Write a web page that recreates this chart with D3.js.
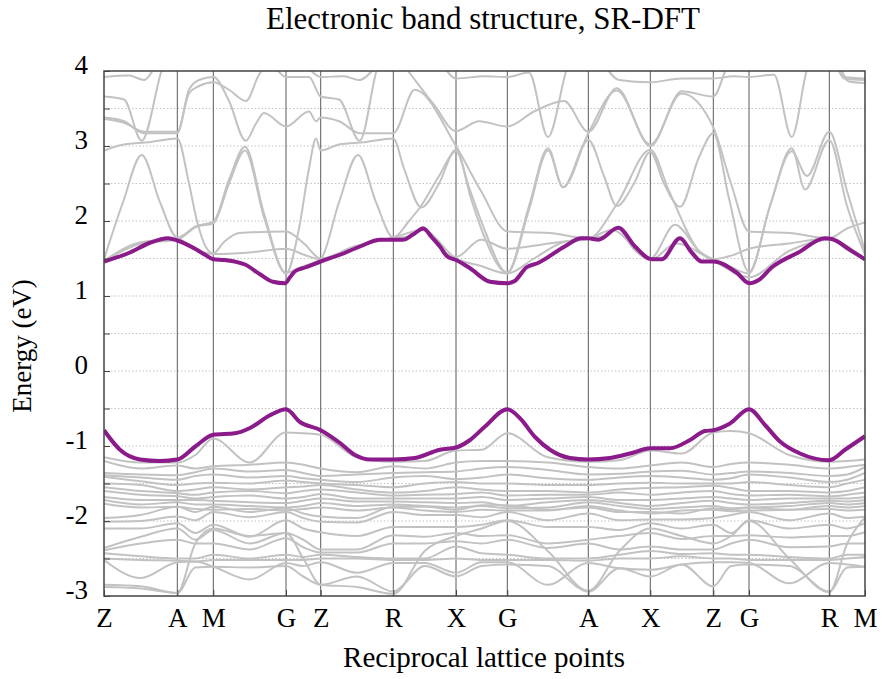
<!DOCTYPE html>
<html>
<head>
<meta charset="utf-8">
<script src="https://cdn.jsdelivr.net/npm/d3@7"></script>
<style>
  body { margin: 0; background: #fff; }
  text { font-family: "Liberation Serif", "Times New Roman", serif; fill: #000; }
</style>
</head>
<body>
<svg id="chart" width="882" height="679"></svg>
<script>
// ---------------------------------------------------------------------------
// Data

// high symmetry points along the path (path length units)
const kPath = [0, 0.733, 1.093, 1.820, 2.167, 2.893, 3.520, 4.033, 4.843, 5.463, 6.093, 6.450, 7.253, 7.610];
const kNames = ['Z', 'A', 'M', 'G', 'Z', 'R', 'X', 'G', 'A', 'X', 'Z', 'G', 'R', 'M'];

const yTicks = [-3, -2, -1, 0, 1, 2, 3, 4];
const yGrid = [-2.5, -2, -1.5, -1, -0.5, 0, 0.5, 1, 1.5, 2, 2.5, 3, 3.5];

// highlighted bands (conduction band minimum / valence band maximum), [k, E]
const purpleCond = [[0, 1.46], [0.26, 1.58], [0.46, 1.71], [0.64, 1.77], [0.733, 1.74], [0.91, 1.63], [1.01, 1.55],
  [1.093, 1.49], [1.21, 1.48], [1.41, 1.42], [1.56, 1.29], [1.69, 1.19], [1.81, 1.17], [1.86, 1.25], [1.91, 1.33],
  [2.01, 1.38], [2.167, 1.46], [2.36, 1.55], [2.56, 1.66], [2.76, 1.75], [2.893, 1.75], [2.99, 1.75], [3.09, 1.82],
  [3.193, 1.90], [3.28, 1.78], [3.36, 1.66], [3.43, 1.53], [3.52, 1.48], [3.66, 1.37], [3.86, 1.19], [4.033, 1.17],
  [4.107, 1.20], [4.223, 1.38], [4.34, 1.44], [4.607, 1.66], [4.773, 1.77], [4.843, 1.77], [4.943, 1.75],
  [5.143, 1.91], [5.31, 1.66], [5.477, 1.49], [5.577, 1.49], [5.76, 1.77], [5.877, 1.58], [5.977, 1.46],
  [6.093, 1.46], [6.327, 1.31], [6.453, 1.17], [6.543, 1.21], [6.677, 1.38], [6.943, 1.58], [7.21, 1.77],
  [7.277, 1.76], [7.477, 1.60], [7.61, 1.49]];

const purpleVal = [[0, -0.79], [0.16, -1.05], [0.36, -1.18], [0.56, -1.20], [0.733, -1.18], [0.91, -1.01],
  [1.093, -0.85], [1.31, -0.83], [1.46, -0.76], [1.66, -0.59], [1.82, -0.51], [1.96, -0.68], [2.167, -0.79],
  [2.36, -0.96], [2.51, -1.12], [2.66, -1.18], [2.893, -1.18], [3.11, -1.16], [3.36, -1.05], [3.52, -1.02],
  [3.66, -0.92], [3.81, -0.74], [4.033, -0.51], [4.16, -0.63], [4.31, -0.88], [4.46, -1.05], [4.66, -1.16],
  [4.843, -1.18], [5.06, -1.16], [5.26, -1.10], [5.463, -1.03], [5.66, -1.03], [5.86, -0.92], [6.01, -0.80],
  [6.093, -0.79], [6.26, -0.70], [6.45, -0.51], [6.61, -0.72], [6.76, -0.94], [6.96, -1.10], [7.253, -1.19],
  [7.41, -1.05], [7.61, -0.87]];

// other conduction bands, [k, E]
const cond1 = [[0, 1.49], [0.19, 2.25], [0.377, 2.88], [0.56, 2.25], [0.733, 1.78], [0.92, 1.93], [1.093, 1.99],
  [1.25, 2.55], [1.41, 2.99], [1.6, 2.1], [1.82, 1.31], [2.0, 1.4], [2.167, 1.49], [2.35, 2.25], [2.54, 2.88],
  [2.72, 2.25], [2.893, 1.78], [3.05, 2.0], [3.17, 2.2], [3.35, 2.6], [3.52, 2.93], [3.65, 2.45], [3.8, 1.9],
  [4.033, 1.31], [4.25, 2.2], [4.44, 2.97], [4.59, 2.45], [4.843, 3.08], [5.0, 2.6], [5.127, 2.2], [5.3, 2.5],
  [5.463, 2.92], [5.6, 2.5], [5.76, 2.19], [5.95, 2.85], [6.093, 3.17], [6.25, 2.3], [6.45, 1.32], [6.66, 2.2],
  [6.877, 2.97], [7.01, 2.42], [7.253, 3.08], [7.43, 2.2], [7.61, 1.55]];
const cond2 = [[0, 1.47], [0.38, 1.72], [0.733, 1.76], [0.92, 1.62], [1.093, 1.56], [1.45, 1.58], [1.82, 1.63],
  [2.0, 1.55], [2.167, 1.49], [2.5, 1.65], [2.893, 1.77], [3.07, 1.8], [3.19, 1.92], [3.35, 1.65], [3.52, 1.52],
  [3.77, 1.75], [4.033, 1.63], [4.45, 1.7], [4.843, 1.77], [5.0, 1.8], [5.13, 1.92], [5.3, 1.62], [5.463, 1.5],
  [5.71, 1.95], [5.95, 1.6], [6.093, 1.49], [6.3, 1.55], [6.45, 1.63], [6.85, 1.7], [7.253, 1.77], [7.43, 1.62],
  [7.61, 1.5]];
const cond3 = [[0, 3.38], [0.2, 3.33], [0.4, 3.17], [0.733, 3.17], [0.85, 3.75], [0.95, 3.88], [1.093, 3.92],
  [1.25, 3.6], [1.417, 3.07], [1.52, 3.3], [1.6, 3.44], [1.82, 3.26], [2.05, 3.46], [2.12, 3.33], [2.167, 3.38],
  [2.35, 3.33], [2.56, 3.17], [2.893, 3.17], [3.107, 3.75], [3.52, 3.0], [3.77, 2.4], [4.033, 1.86], [4.45, 1.84],
  [4.843, 1.77], [5.127, 2.22], [5.463, 2.95], [5.65, 2.4], [5.95, 1.6], [6.093, 1.49], [6.25, 1.4], [6.45, 1.3],
  [6.66, 2.2], [6.877, 2.93], [7.03, 2.6], [7.253, 3.19], [7.43, 2.4], [7.61, 1.6]];
const cond4 = [[0, 3.36], [0.2, 3.31], [0.4, 3.19], [0.733, 3.19], [0.85, 3.7], [0.95, 3.8], [1.093, 3.85],
  [1.25, 3.75], [1.42, 3.6], [1.55, 3.95], [1.65, 4.1], [1.82, 3.92], [2.05, 3.92], [2.167, 3.66], [2.35, 3.62],
  [2.557, 3.07], [2.75, 4.1], [2.893, 4.25], [3.04, 4.0], [3.3, 3.55], [3.52, 3.2], [3.75, 3.33], [4.033, 3.26],
  [4.3, 3.46], [4.6, 3.6], [4.843, 3.19], [5.127, 3.77], [5.463, 3.0], [5.777, 3.73], [6.093, 3.66], [6.25, 4.1],
  [6.45, 4.25], [7.253, 4.25], [7.4, 3.9], [7.61, 3.88]];
const cond5 = [[0, 3.66], [0.2, 3.62], [0.377, 3.07], [0.6, 4.1], [0.733, 4.3], [1.82, 4.3], [2.0, 4.1],
  [2.167, 3.92], [2.4, 3.93], [2.55, 3.88], [2.75, 4.1], [2.893, 4.3], [3.3, 4.2], [3.52, 3.9], [3.8, 3.93],
  [4.033, 3.92], [4.25, 3.98], [4.44, 3.12], [4.65, 4.1], [4.843, 4.3], [5.15, 3.88], [5.463, 3.85], [5.777, 3.9],
  [6.093, 3.9], [6.3, 3.93], [6.45, 3.92], [6.7, 3.95], [6.877, 3.12], [7.05, 4.1], [7.253, 4.3], [7.45, 3.86],
  [7.61, 3.84]];
const cond6 = [[0, 1.46], [0.38, 1.7], [0.733, 1.75], [0.92, 1.92], [1.093, 1.97], [1.25, 2.5], [1.41, 2.94],
  [1.6, 2.05], [1.82, 1.30], [1.95, 1.9], [2.05, 2.7], [2.12, 3.1], [2.167, 2.94], [2.35, 3.02], [2.6, 3.05],
  [2.893, 3.10], [3.0, 2.7], [3.173, 2.18], [3.35, 2.5], [3.52, 2.95], [3.67, 2.3], [3.8, 1.8], [4.033, 1.31],
  [4.25, 2.15], [4.44, 2.94], [4.59, 2.45], [4.843, 3.17], [5.127, 3.74], [5.463, 3.02], [5.777, 3.7],
  [6.093, 3.25], [6.27, 2.5], [6.45, 1.86], [6.85, 1.84], [7.253, 1.77], [7.43, 1.9], [7.61, 1.98]];
const cond7 = [[0, 2.94], [0.2, 3.02], [0.45, 3.05], [0.733, 3.10], [0.85, 2.5], [0.93, 2.0], [1.02, 1.65],
  [1.093, 1.57], [1.2, 1.72], [1.35, 1.84], [1.82, 1.86], [2.0, 1.7], [2.167, 1.5], [2.5, 1.66], [2.893, 1.78],
  [3.19, 1.88], [3.52, 1.5], [3.77, 1.4], [4.033, 1.3], [4.3, 1.5], [4.6, 1.72], [4.843, 1.76], [5.08, 1.88],
  [5.463, 1.48], [5.72, 1.7], [6.093, 1.47], [6.45, 1.25], [6.85, 1.6], [7.253, 1.75], [7.61, 1.48]];
const cond8 = [[0, 3.92], [0.25, 3.94], [0.4, 3.88], [0.6, 4.2], [7.253, 4.25], [7.4, 3.92], [7.61, 3.9]];

// valence bands sampled at the high symmetry points and segment midpoints
const valK = [0, 0.367, 0.733, 0.913, 1.093, 1.457, 1.820, 1.993, 2.167, 2.530, 2.893, 3.207, 3.520, 3.777,
  4.033, 4.438, 4.843, 5.153, 5.463, 5.778, 6.093, 6.272, 6.450, 6.852, 7.253, 7.432, 7.610];
const val1 = [-1.15, -1.22, -1.22, -1.12, -0.90, -1.22, -0.82, -0.83, -0.85, -1.15, -1.21, -1.20, -1.06, -1.05, -0.83, -1.15, -1.21, -1.19, -1.06, -1.10, -0.82, -0.80, -0.83, -1.12, -1.21, -1.20, -1.18];
const val2 = [-1.20, -1.30, -1.26, -1.30, -1.27, -1.25, -1.22, -1.25, -1.30, -1.35, -1.27, -1.30, -1.22, -1.20, -1.20, -1.22, -1.28, -1.30, -1.26, -1.22, -1.28, -1.24, -1.22, -1.25, -1.30, -1.28, -1.25];
const val3 = [-1.36, -1.38, -1.39, -1.35, -1.30, -1.34, -1.32, -1.36, -1.40, -1.38, -1.36, -1.35, -1.34, -1.30, -1.28, -1.32, -1.38, -1.37, -1.34, -1.33, -1.38, -1.36, -1.34, -1.36, -1.40, -1.38, -1.28];
const val4 = [-1.39, -1.42, -1.45, -1.40, -1.38, -1.42, -1.40, -1.43, -1.45, -1.48, -1.42, -1.40, -1.44, -1.42, -1.38, -1.43, -1.45, -1.42, -1.40, -1.42, -1.45, -1.43, -1.38, -1.42, -1.48, -1.45, -1.36];
const val5 = [-1.41, -1.47, -1.52, -1.50, -1.49, -1.50, -1.46, -1.48, -1.50, -1.52, -1.55, -1.50, -1.48, -1.50, -1.50, -1.52, -1.52, -1.50, -1.49, -1.50, -1.50, -1.50, -1.48, -1.52, -1.55, -1.50, -1.45];
const val6 = [-1.50, -1.52, -1.60, -1.58, -1.55, -1.58, -1.55, -1.54, -1.52, -1.58, -1.62, -1.60, -1.55, -1.58, -1.60, -1.60, -1.62, -1.58, -1.56, -1.55, -1.53, -1.56, -1.60, -1.60, -1.62, -1.60, -1.55];
const val7 = [-1.55, -1.60, -1.63, -1.65, -1.62, -1.60, -1.63, -1.60, -1.58, -1.62, -1.66, -1.65, -1.64, -1.62, -1.66, -1.65, -1.65, -1.62, -1.65, -1.62, -1.60, -1.64, -1.66, -1.65, -1.67, -1.65, -1.62];
const val8 = [-1.60, -1.65, -1.67, -1.70, -1.68, -1.66, -1.70, -1.68, -1.64, -1.70, -1.70, -1.70, -1.70, -1.68, -1.72, -1.70, -1.68, -1.72, -1.72, -1.70, -1.68, -1.70, -1.72, -1.70, -1.70, -1.70, -1.68];
const val9 = [-1.68, -1.72, -1.72, -1.72, -1.73, -1.75, -1.76, -1.73, -1.70, -1.74, -1.74, -1.75, -1.76, -1.75, -1.80, -1.75, -1.72, -1.76, -1.80, -1.76, -1.73, -1.76, -1.78, -1.76, -1.73, -1.74, -1.72];
const val10 = [-1.72, -1.78, -1.75, -1.78, -1.78, -1.80, -1.82, -1.80, -1.76, -1.80, -1.78, -1.80, -1.82, -1.80, -1.83, -1.82, -1.75, -1.80, -1.84, -1.82, -1.80, -1.83, -1.82, -1.80, -1.76, -1.78, -1.76];
const val11 = [-1.77, -1.82, -1.81, -1.84, -1.85, -1.84, -1.86, -1.84, -1.82, -1.86, -1.82, -1.86, -1.88, -1.85, -1.86, -1.86, -1.80, -1.86, -1.90, -1.86, -1.85, -1.87, -1.86, -1.85, -1.80, -1.82, -1.80];
const val12 = [-1.96, -1.92, -1.81, -1.88, -1.81, -1.88, -1.83, -1.90, -1.94, -1.96, -1.81, -1.81, -1.85, -1.79, -1.79, -1.85, -1.82, -1.88, -1.88, -1.90, -1.83, -1.85, -1.82, -1.85, -1.84, -1.86, -1.85];
const val13 = [-2.01, -2.00, -1.94, -1.99, -1.88, -1.95, -1.88, -1.96, -2.01, -2.02, -1.88, -1.92, -1.92, -1.95, -1.88, -1.99, -1.90, -1.99, -1.98, -1.98, -1.96, -1.92, -1.88, -1.99, -1.90, -1.96, -1.94];
const val14 = [-2.10, -2.10, -2.03, -2.16, -2.05, -2.21, -1.99, -2.10, -2.15, -2.20, -2.08, -2.08, -2.08, -2.05, -1.99, -2.08, -2.08, -2.12, -2.03, -2.10, -2.05, -2.16, -1.99, -2.10, -2.05, -2.10, -2.03];
const val15 = [-2.36, -2.21, -2.10, -2.25, -2.12, -2.30, -2.16, -2.25, -2.38, -2.38, -2.19, -2.21, -2.16, -2.20, -2.19, -2.30, -2.25, -2.20, -2.16, -2.24, -2.20, -2.20, -2.19, -2.22, -2.20, -2.20, -2.15];
const val16 = [-2.39, -2.30, -2.25, -2.30, -2.30, -2.38, -2.23, -2.35, -2.42, -2.42, -2.30, -2.30, -2.27, -2.30, -2.25, -2.36, -2.30, -2.38, -2.34, -2.38, -2.38, -2.30, -2.25, -2.35, -2.34, -2.30, -2.30];
const val17 = [-2.43, -2.47, -2.50, -2.50, -2.45, -2.50, -2.45, -2.48, -2.45, -2.48, -2.50, -2.50, -2.34, -2.43, -2.45, -2.50, -2.50, -2.45, -2.40, -2.44, -2.43, -2.45, -2.45, -2.48, -2.50, -2.45, -2.45];
const val18 = [-2.50, -2.52, -2.53, -2.54, -2.52, -2.52, -2.52, -2.52, -2.50, -2.50, -2.52, -2.52, -2.50, -2.52, -2.52, -2.52, -2.53, -2.50, -2.50, -2.47, -2.50, -2.50, -2.52, -2.52, -2.52, -2.50, -2.48];
const val19 = [-2.52, -2.76, -2.55, -2.54, -2.61, -2.78, -2.56, -2.60, -2.55, -2.69, -2.56, -2.56, -2.69, -2.55, -2.55, -2.85, -2.56, -2.63, -2.65, -2.58, -2.55, -2.55, -2.56, -2.83, -2.56, -2.58, -2.61];
const val20 = [-2.85, -2.87, -2.96, -2.62, -2.61, -2.62, -2.60, -2.74, -2.85, -2.74, -2.94, -2.60, -2.74, -2.60, -2.58, -2.60, -2.94, -2.63, -2.74, -2.58, -2.87, -2.60, -2.58, -2.60, -2.94, -2.62, -2.61];
const val21 = [-2.88, -2.90, -2.96, -2.30, -2.10, -2.20, -2.16, -2.50, -2.85, -2.88, -2.97, -2.40, -2.20, -2.10, -2.00, -2.40, -2.93, -2.40, -2.10, -2.20, -2.30, -2.20, -2.00, -2.50, -2.95, -2.30, -1.95];

// ---------------------------------------------------------------------------
// Chart

const svg = d3.select('#chart');
const plot = { left: 104, right: 865, top: 71, bottom: 596 };

const x = d3.scaleLinear().domain([kPath[0], kPath[kPath.length - 1]]).range([plot.left, plot.right]);
const y = d3.scaleLinear().domain([-3, 4]).range([plot.bottom, plot.top]);

svg.append('rect').attr('width', 882).attr('height', 679).attr('fill', '#fff');

svg.append('defs').append('clipPath').attr('id', 'plot-clip')
  .append('rect')
  .attr('x', plot.left).attr('y', plot.top)
  .attr('width', plot.right - plot.left).attr('height', plot.bottom - plot.top);

// dotted horizontal grid
svg.append('g').selectAll('line').data(yGrid).enter().append('line')
  .attr('x1', plot.left).attr('x2', plot.right)
  .attr('y1', (d) => y(d)).attr('y2', (d) => y(d))
  .attr('stroke', '#b4b4b4').attr('stroke-width', 0.8).attr('stroke-dasharray', '1.5,2');

// high symmetry point separators
svg.append('g').selectAll('line').data(kPath.slice(1, -1)).enter().append('line')
  .attr('x1', (d) => x(d)).attr('x2', (d) => x(d))
  .attr('y1', plot.top).attr('y2', plot.bottom)
  .attr('stroke', '#5a5a5a').attr('stroke-width', 1);

const line = d3.line()
  .x((d) => x(d[0]))
  .y((d) => y(d[1]))
  .curve(d3.curveMonotoneX);

const greyBands = [cond1, cond2, cond3, cond4, cond5, cond6, cond7, cond8]
  .concat([val1, val2, val3, val4, val5, val6, val7, val8, val9, val10, val11, val12, val13, val14, val15,
    val16, val17, val18, val19, val20, val21].map((band) => band.map((e, i) => [valK[i], e])));

const bands = svg.append('g').attr('clip-path', 'url(#plot-clip)');
bands.selectAll('.grey-band').data(greyBands).enter().append('path')
  .attr('class', 'grey-band')
  .attr('d', line)
  .attr('fill', 'none')
  .attr('stroke', '#c2c2c2')
  .attr('stroke-width', 2);

bands.selectAll('.edge-band').data([purpleCond, purpleVal]).enter().append('path')
  .attr('class', 'edge-band')
  .attr('d', line)
  .attr('fill', 'none')
  .attr('stroke', '#8b1a8b')
  .attr('stroke-width', 4)
  .attr('stroke-linejoin', 'round');

// axes
const yAxis = d3.axisLeft(y).tickValues(yTicks).tickSizeInner(-6).tickSizeOuter(0).tickPadding(16)
  .tickFormat((d) => String(d));
const yMinor = d3.axisLeft(y).tickValues(yGrid.filter((d) => d % 1 !== 0)).tickSizeInner(-6).tickSizeOuter(0)
  .tickFormat('');
const xAxis = d3.axisBottom(x).tickValues(kPath).tickSizeInner(-6).tickSizeOuter(0).tickPadding(12)
  .tickFormat((d, i) => kNames[i]);

[yAxis, yMinor].forEach((axis) => {
  const g = svg.append('g').attr('transform', `translate(${plot.left},0)`).call(axis);
  g.select('.domain').remove();
  g.selectAll('line').attr('stroke', '#444');
  g.selectAll('text').attr('font-size', 27).attr('dy', '0.08em');
});

const gx = svg.append('g').attr('transform', `translate(0,${plot.bottom})`).call(xAxis);
gx.select('.domain').remove();
gx.selectAll('line').attr('stroke', '#444');
gx.selectAll('text').attr('font-size', 27);

// frame
svg.append('rect')
  .attr('x', plot.left).attr('y', plot.top)
  .attr('width', plot.right - plot.left).attr('height', plot.bottom - plot.top)
  .attr('fill', 'none').attr('stroke', '#444').attr('stroke-width', 1.5);

// titles
svg.append('text')
  .attr('x', 483).attr('y', 29)
  .attr('text-anchor', 'middle').attr('font-size', 31)
  .text('Electronic band structure, SR-DFT');

svg.append('text')
  .attr('x', 484).attr('y', 667)
  .attr('text-anchor', 'middle').attr('font-size', 29)
  .text('Reciprocal lattice points');

svg.append('text')
  .attr('transform', 'translate(31,346) rotate(-90)')
  .attr('text-anchor', 'middle').attr('font-size', 27)
  .text('Energy (eV)');
</script>
</body>
</html>
